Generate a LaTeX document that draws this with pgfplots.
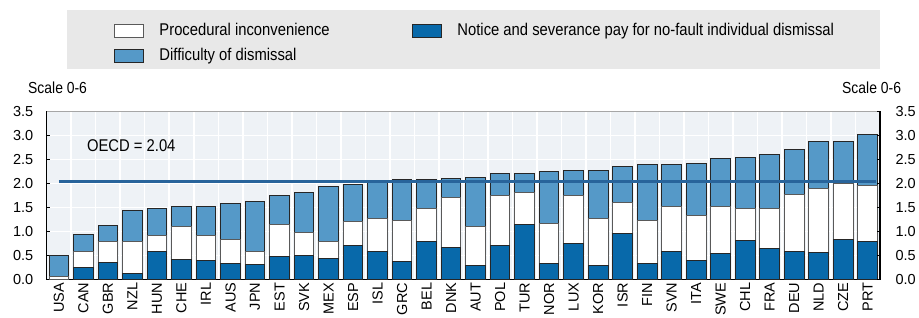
\documentclass[border=0pt]{standalone}
\usepackage{pgfplots}
\pgfplotsset{compat=1.18}
\usepackage{pgfplotstable}
\usepackage{fontspec}
\setmainfont{Liberation Sans}[FakeStretch=0.87]
\newfontfamily\tickfont{Liberation Sans}
\definecolor{darkb}{RGB}{8,105,170}
\definecolor{lightb}{RGB}{85,153,200}
\definecolor{plotbg}{RGB}{238,242,246}
\definecolor{legbg}{RGB}{232,232,232}
\definecolor{oecd}{RGB}{40,100,155}

\pgfplotstableread{
idx name notice proc diff
0 USA 0.00 0.05 0.45
1 CAN 0.25 0.33 0.35
2 GBR 0.36 0.43 0.33
3 NZL 0.13 0.65 0.65
4 HUN 0.58 0.34 0.55
5 CHE 0.41 0.69 0.41
6 IRL 0.39 0.53 0.59
7 AUS 0.34 0.50 0.74
8 JPN 0.30 0.29 1.04
9 EST 0.47 0.68 0.60
10 SVK 0.50 0.48 0.83
11 MEX 0.44 0.34 1.15
12 ESP 0.71 0.49 0.77
13 ISL 0.58 0.70 0.76
14 GRC 0.38 0.85 0.86
15 BEL 0.78 0.70 0.61
16 DNK 0.67 1.03 0.41
17 AUT 0.29 0.81 1.03
18 POL 0.71 1.03 0.47
19 TUR 1.14 0.67 0.40
20 NOR 0.34 0.82 1.09
21 LUX 0.74 1.00 0.54
22 KOR 0.29 0.99 1.00
23 ISR 0.95 0.66 0.74
24 FIN 0.34 0.89 1.16
25 SVN 0.59 0.94 0.86
26 ITA 0.39 0.95 1.07
27 SWE 0.53 1.00 1.00
28 CHL 0.80 0.67 1.08
29 FRA 0.64 0.83 1.14
30 DEU 0.58 1.19 0.95
31 NLD 0.56 1.34 0.97
32 CZE 0.84 1.16 0.88
33 PRT 0.79 1.16 1.08
}\datatable

\begin{document}
\begin{tikzpicture}[x=1pt,y=1pt]
\useasboundingbox (0,0) rectangle (919,318);
\fill[legbg] (67.3,248.7) rectangle (880,308);
\node[anchor=west, inner sep=0pt, font=\fontsize{16}{16}\selectfont] at (28,230) {Scale 0-6};
\node[anchor=west, inner sep=0pt, font=\fontsize{16}{16}\selectfont] at (842,230) {Scale 0-6};
\begin{axis}[
  at={(46.7pt,38.7pt)}, anchor=south west, scale only axis,
  width=833.3pt, height=167.6pt,
  xmin=-0.5, xmax=33.5, ymin=0, ymax=3.5,
  ybar stacked, bar width=19.7pt,
  xtick={0,...,33}, xticklabels from table={\datatable}{name},
  x tick label style={rotate=90, anchor=east, font=\tickfont\fontsize{14.5}{14.5}\selectfont},
  xtick style={draw=none}, minor x tick style={draw=none},
  minor xtick={0.5,1.5,...,32.5}, xminorgrids=true,
  minor grid style={white, line width=1.5pt},
  ytick={0,0.5,...,3.5}, ymajorgrids=true,
  major grid style={white, line width=1.5pt},
  ytick pos=left, xtick pos=bottom,
  /pgf/number format/assume math mode=true,
  yticklabel style={/pgf/number format/.cd, fixed, fixed zerofill, precision=1, /tikz/.cd, font=\tickfont\fontsize{14.5}{14.5}\selectfont, xshift=-10pt},
  tick align=inside, major tick length=3pt,
  y tick style={black, line width=1pt},
  axis background/.style={fill=plotbg},
  axis line style={black, line width=1.5pt},
  legend columns=2,
  legend cell align=left,
  legend style={at={(0.0811,1.529)}, anchor=north west, draw=none, fill=none,
    inner sep=0pt, row sep=10pt, font=\fontsize{17}{17}\selectfont,
    /tikz/every odd column/.append style={column sep=15pt},
    nodes={inner sep=0pt, text height=12pt, text depth=3pt}},
]
\addplot[fill=darkb, draw=black!85, line width=1pt, forget plot] table[x=idx, y=notice] {\datatable};
\addplot[fill=white, draw=gray!70!black, line width=1pt, forget plot] table[x=idx, y=proc] {\datatable};
\addplot[fill=lightb, draw=black!85, line width=1pt, forget plot] table[x=idx, y=diff] {\datatable};
\addlegendimage{legend image code/.code={\draw[fill=white, draw=gray!70!black, line width=1pt] (0pt,-6.5pt) rectangle (29pt,6.5pt);}}
\addlegendentry{\makebox[253pt][l]{Procedural inconvenience}}
\addlegendimage{legend image code/.code={\draw[fill=darkb, draw=black!85, line width=1pt] (0pt,-6.5pt) rectangle (29pt,6.5pt);}}
\addlegendentry{Notice and severance pay for no-fault individual dismissal}
\addlegendimage{legend image code/.code={\draw[fill=lightb, draw=black!85, line width=1pt] (0pt,-6.5pt) rectangle (29pt,6.5pt);}}
\addlegendentry{Difficulty of dismissal}
\draw[gray!70, line width=1.5pt] (rel axis cs:0,1) -- (rel axis cs:1,1);
\end{axis}
\begin{axis}[
  at={(46.7pt,38.7pt)}, anchor=south west, scale only axis,
  width=833.3pt, height=167.6pt,
  xmin=-0.5, xmax=33.5, ymin=0, ymax=3.5,
  axis x line=none, axis y line*=right,
  ytick={0,0.5,...,3.5},
  /pgf/number format/assume math mode=true,
  yticklabel style={/pgf/number format/.cd, fixed, fixed zerofill, precision=1, /tikz/.cd, font=\tickfont\fontsize{14.5}{14.5}\selectfont, xshift=12pt},
  tick align=inside, major tick length=3pt,
  y tick style={black, line width=1pt},
  axis line style={black, line width=1.5pt},
]
\addplot[oecd, line width=2.5pt, no markers] coordinates {(0,2.04) (33.35,2.04)};
\node[anchor=west, inner sep=0pt, font=\fontsize{17}{17}\selectfont] at (axis cs:1.14,2.8) {OECD = 2.04};
\end{axis}
\end{tikzpicture}
\end{document}
